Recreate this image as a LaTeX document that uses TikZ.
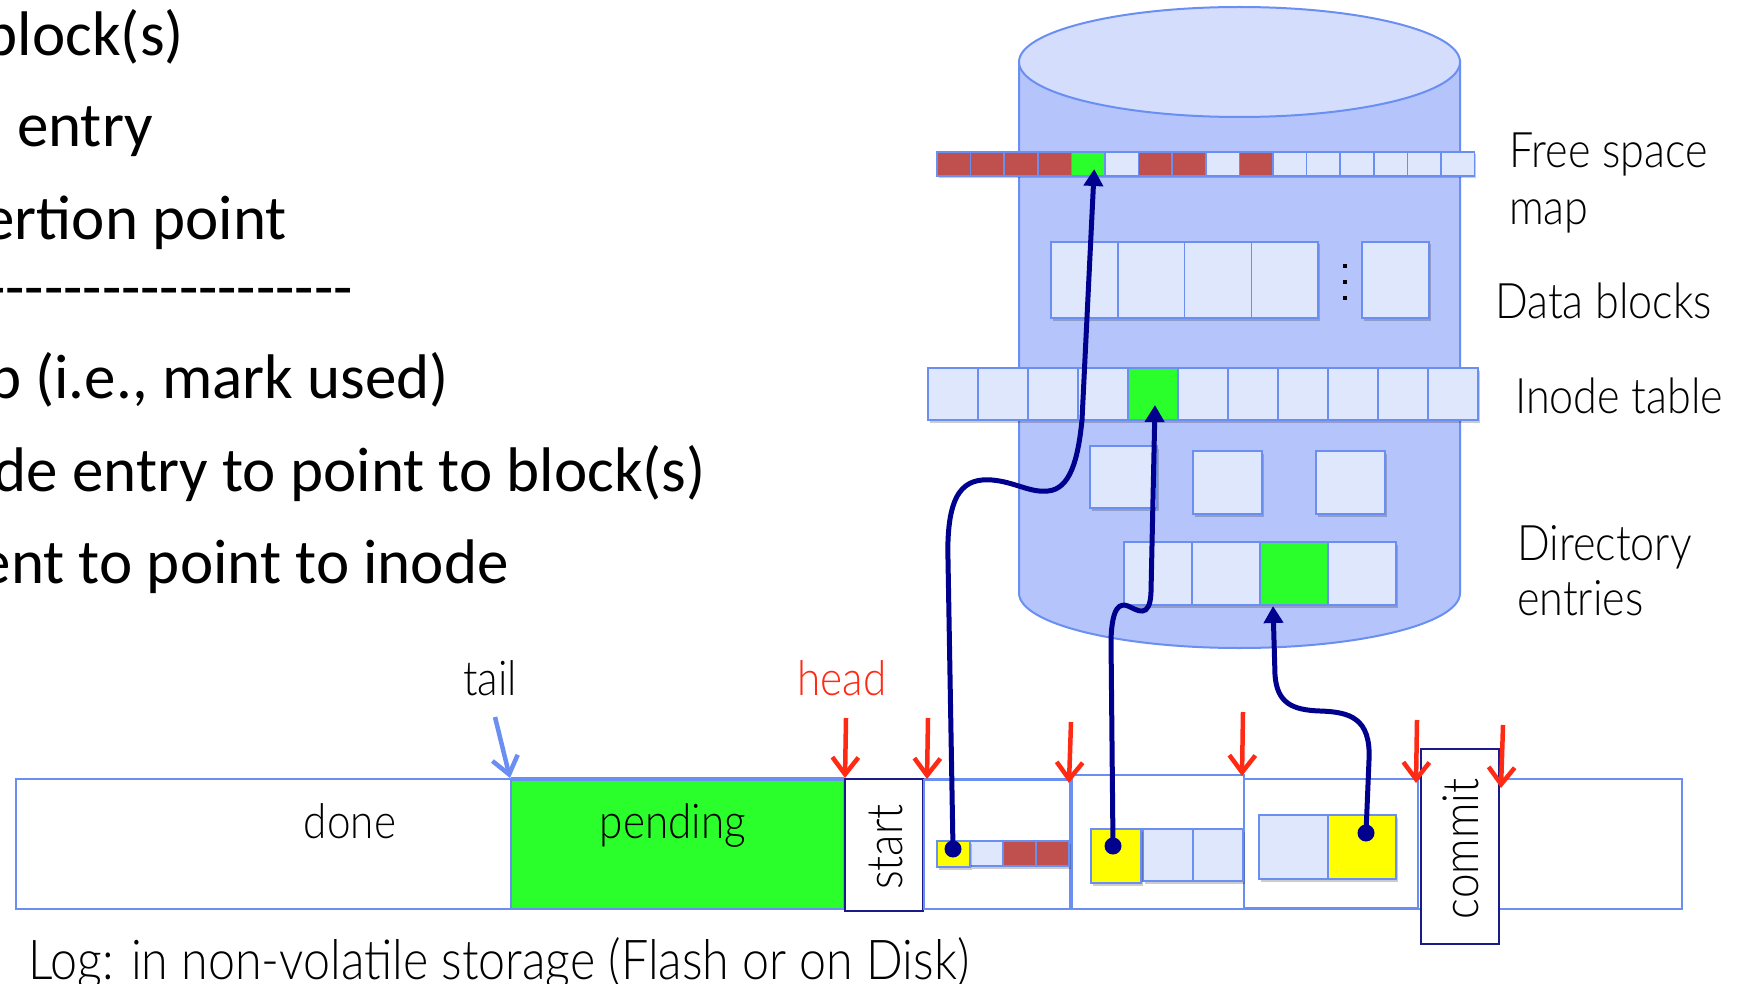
\documentclass[tikz,border=0pt]{standalone}
\usepackage{fontspec}
\setmainfont{Carlito}
\newfontfamily\gillf[FakeStretch=0.88]{Lato Light}
\newfontfamily\calif{Carlito}
\usetikzlibrary{arrows.meta,shadows}
\definecolor{bord}{HTML}{6A8EF2}
\definecolor{cylbody}{HTML}{B5C5FB}
\definecolor{cyltop}{HTML}{D4DDFC}
\definecolor{bf}{HTML}{DEE7FC}
\definecolor{rb}{HTML}{C0504D}
\definecolor{gr}{HTML}{2BFF2B}
\definecolor{yl}{HTML}{FFFF00}
\definecolor{navyc}{HTML}{00008F}
\definecolor{arrred}{HTML}{FF2A14}
\definecolor{boxnavy}{HTML}{1A1A8A}
\begin{document}
\begin{tikzpicture}[x=1pt,y=-1pt,
  blk/.style={draw=bord, line width=1.5pt, fill=bf, inner sep=0pt, outer sep=0pt, anchor=north west,
    drop shadow={shadow xshift=1.5pt, shadow yshift=-2.5pt, fill=black, opacity=0.2}},
  flat/.style={draw=bord, line width=1.5pt, fill=white, inner sep=0pt, outer sep=0pt, anchor=north west},
  navybox/.style={draw=boxnavy, line width=1.5pt, fill=white, inner sep=0pt, outer sep=0pt, anchor=north west},
  lbl/.style={inner sep=0pt, font=\gillf\fontsize{48}{52}\selectfont},
  rlbl/.style={inner sep=0pt, anchor=base west, font=\gillf\fontsize{49}{52}\selectfont},
  side/.style={inner sep=0pt, anchor=base east, font=\calif\fontsize{63}{70}\selectfont},
  conn/.style={draw=navyc, line width=5pt, line cap=round, -{Triangle[length=17pt,width=19pt]}},
  redarr/.style={draw=arrred, line width=4.5pt, -{Straight Barb[length=17pt,width=26pt]}},
  tailarr/.style={draw=bord, line width=4.5pt, -{Straight Barb[length=17pt,width=26pt]}},
  dotc/.style={fill=navyc}]
\useasboundingbox (0,0) rectangle (1752,984);
\fill[white] (0,0) rectangle (1752,984);

% ---------- left text ----------
\node[side] (t1) at (184,56) {block(s)};
\node[side] (t2) at (153,147) {entry};
\node[side] (t3) at (287,240) {ertion point};
\node[side] (t4) at (353,308) {-------------------};
\node[side] (t5) at (449,398) {p (i.e., mark used)};
\node[side] (t6) at (706,491) {de entry to point to block(s)};
\node[side] (t7) at (509,583) {ent to point to inode};

% ---------- cylinder ----------
\path[fill=cylbody, draw=bord, line width=2pt] (1019,62) -- (1019,593)
  arc[start angle=180, end angle=360, x radius=220.5pt, y radius=55pt] -- (1460,62) -- cycle;
\path[fill=cyltop, draw=bord, line width=2pt] (1239.5,62) ellipse[x radius=220.5pt, y radius=55pt];

% free space map
\foreach \c [count=\i] in {rb,rb,rb,rb,gr,bf,rb,rb,bf,rb,bf,bf,bf,bf,bf,bf}
  \node[blk, fill=\c, minimum width=33.6pt, minimum height=24pt] (fs\i) at ({937+(\i-1)*33.6},152) {};

% data blocks
\foreach \i in {1,...,4}
  \node[blk, minimum width=66.75pt, minimum height=76pt] (db\i) at ({1051+(\i-1)*66.75},242) {};
\node[blk, minimum width=67pt, minimum height=76pt] (db5) at (1362,242) {};
\foreach \j/\yy in {1/266,2/282,3/298}
  \node[fill=black, minimum size=4.5pt, inner sep=0pt] (dt\j) at (1345,\yy) {};

% inode table
\foreach \c [count=\i] in {bf,bf,bf,bf,gr,bf,bf,bf,bf,bf,bf}
  \node[blk, fill=\c, minimum width=50pt, minimum height=52pt] (in\i) at ({928+(\i-1)*50},368) {};

% middle squares
\node[blk, minimum width=67pt, minimum height=62pt] (sq1) at (1090,446) {};
\node[blk, minimum width=69pt, minimum height=63pt] (sq2) at (1193,451) {};
\node[blk, minimum width=69pt, minimum height=63pt] (sq3) at (1316,451) {};

% directory entries
\foreach \c [count=\i] in {bf,bf,gr,bf}
  \node[blk, fill=\c, minimum width=68pt, minimum height=63pt] (dr\i) at ({1124+(\i-1)*68},542) {};

% labels right
\node[rlbl] (fsl1) at (1509,168) {Free space};
\node[rlbl] (fsl2) at (1509,225) {map};
\node[rlbl] (dbl) at (1495,318) {Data blocks};
\node[rlbl] (itl) at (1515,413) {Inode table};
\node[rlbl] (del1) at (1517,560) {Directory};
\node[rlbl] (del2) at (1517,615) {entries};

% ---------- log ----------
\node[flat, line width=2pt, minimum width=1666pt, minimum height=130pt] (logbar) at (16,779) {};
\node[flat, fill=gr, minimum width=333pt, minimum height=130pt] (pend) at (511,779) {};
\draw[bord, line width=3.5pt] (pend.north west) -- (pend.north east);
\node[lbl, anchor=base] (donel) at (350,838) {done};
\node[lbl, anchor=base] (pendl) at (673,838) {pending};
\node[navybox, minimum width=78pt, minimum height=132pt] (startbox) at (845,779) {};
\node[lbl, rotate=90, font=\gillf\fontsize{50}{52}\selectfont] (startl) at (886,847) {start};
\node[flat, minimum width=146pt, minimum height=129pt] (rec1) at (924,780) {};
\node[flat, minimum width=172pt, minimum height=134pt] (rec2) at (1072,775) {};
\node[flat, minimum width=174pt, minimum height=129pt] (rec3) at (1244,779) {};
\node[navybox, minimum width=78pt, minimum height=195pt] (commitbox) at (1421,749) {};
\node[lbl, rotate=90, font=\gillf\fontsize{50}{52}\selectfont] (commitl) at (1461,849) {commit};

% record contents
\node[blk, minimum width=33pt, minimum height=25pt] (r1b) at (970,841) {};
\node[blk, fill=rb, minimum width=33pt, minimum height=25pt] (r1c) at (1003,841) {};
\node[blk, fill=rb, minimum width=33pt, minimum height=25pt] (r1d) at (1036,841) {};
\node[blk, fill=yl, minimum width=33pt, minimum height=26pt] (y1) at (937,841) {};
\node[blk, minimum width=50pt, minimum height=52pt] (r2b) at (1143,829) {};
\node[blk, minimum width=50pt, minimum height=52pt] (r2c) at (1193,829) {};
\node[blk, fill=yl, minimum width=50pt, minimum height=54pt] (y2) at (1091,829) {};
\node[blk, minimum width=69pt, minimum height=64pt] (r3a) at (1259,815) {};
\node[blk, fill=yl, minimum width=68pt, minimum height=64pt] (y3) at (1328,815) {};

% ---------- connectors ----------
\coordinate (d1) at (953,849);
\coordinate (d2) at (1113,846);
\coordinate (d3) at (1366,833);
\fill[dotc] (d1) circle[radius=8.5pt];
\fill[dotc] (d2) circle[radius=8.5pt];
\fill[dotc] (d3) circle[radius=8.5pt];
\draw[conn] (d1) -- (948,560) .. controls (946,490) and (965,478) .. (992,480)
  .. controls (1015,482) and (1030,493) .. (1048,491)
  .. controls (1070,489) and (1078,460) .. (1082,420) -- ([xshift=6pt,yshift=7pt]fs5.south);
\draw[conn] (d2) -- (1111,640) .. controls (1112,606) and (1120,603) .. (1128,606)
  .. controls (1137,610) and (1150,620) .. (1151,592) -- ([xshift=2pt,yshift=15pt]in5.south);
\draw[conn] (d3) -- (1369,760) .. controls (1371,718) and (1350,712) .. (1320,711)
  .. controls (1292,710) and (1277,703) .. (1275,675) -- ([xshift=-21pt,yshift=-1pt]dr3.south);

% ---------- head / tail markers ----------
\node[lbl, anchor=base] (taill) at (490,695) {tail};
\node[lbl, anchor=base, text=arrred] (headl) at (842,695) {head};
\coordinate (ts) at (495,717); \coordinate (te) at (510,778);
\draw[tailarr] (ts) -- (te);
\coordinate (h0s) at (846,718);  \coordinate (h0e) at (845,778);
\coordinate (h1s) at (928,718);  \coordinate (h1e) at (927,779);
\coordinate (h2s) at (1071,722); \coordinate (h2e) at (1069,783);
\coordinate (h3s) at (1243,712); \coordinate (h3e) at (1242,776);
\coordinate (h4s) at (1417,720); \coordinate (h4e) at (1416,783);
\coordinate (h5s) at (1503,725); \coordinate (h5e) at (1501,788);
\foreach \k in {0,...,5} \draw[redarr] (h\k s) -- (h\k e);

\node[lbl, anchor=base west, font=\gillf\fontsize{55}{60}\selectfont] (logl) at (28,979) {Log: in non-volatile storage (Flash or on Disk)};
\end{tikzpicture}
\end{document}
